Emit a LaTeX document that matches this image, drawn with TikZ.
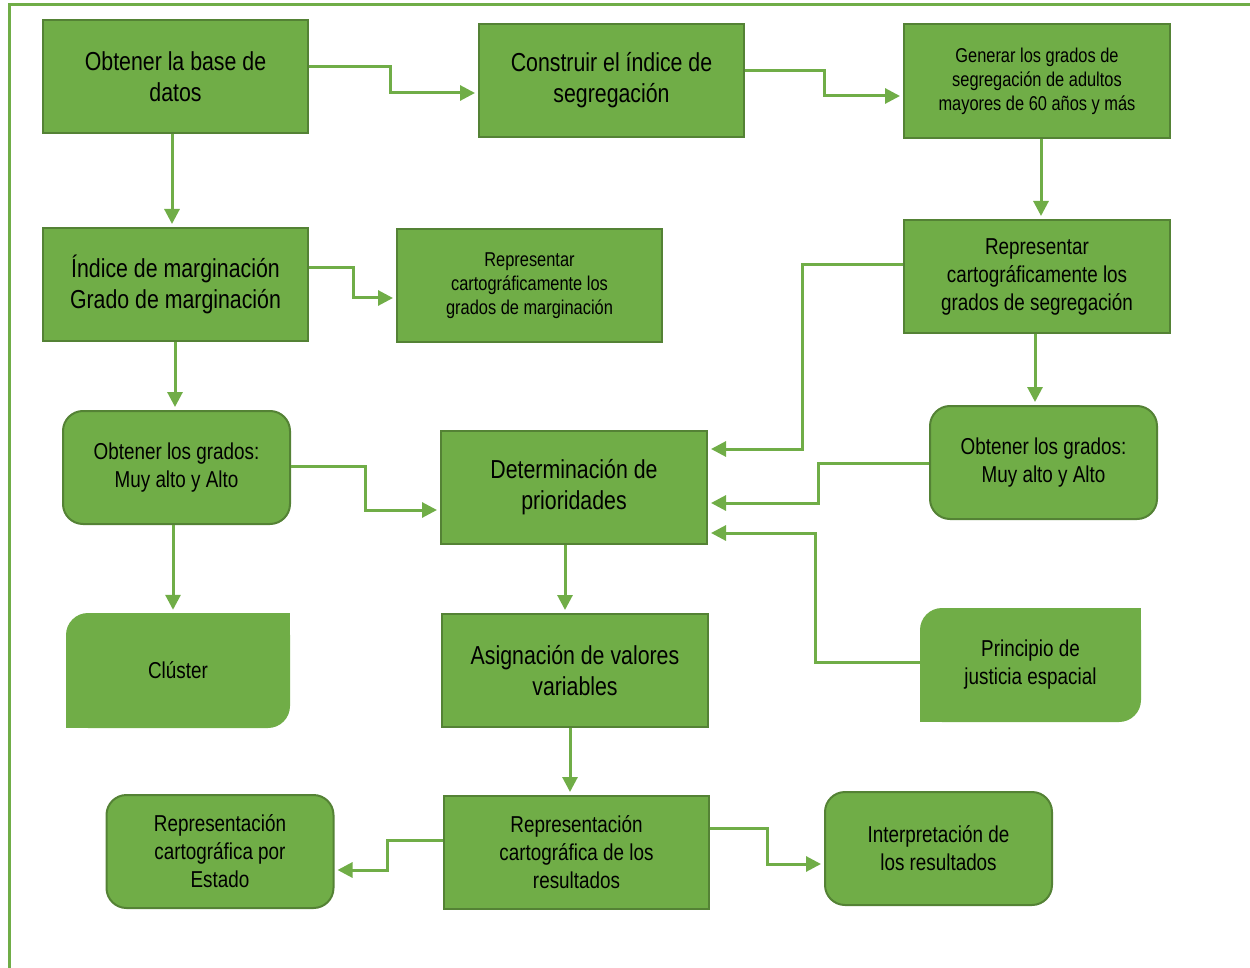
\documentclass[tikz,border=0pt]{standalone}
\usepackage{fontspec}
\setmainfont{Liberation Sans}[FakeStretch=0.82]
\usetikzlibrary{arrows.meta,calc}
\definecolor{gfill}{HTML}{70AD47}
\definecolor{gborder}{HTML}{548235}
\definecolor{gline}{HTML}{70AD47}
\tikzset{
 box/.style={rectangle, draw=gborder, line width=2pt, fill=gfill, inner sep=0pt, align=center, text=black, minimum width=265pt, minimum height=113pt},
 rbox/.style={box, rounded corners=20pt, minimum width=227pt},
 cbox/.style={rectangle, fill=gfill, rounded corners=22pt, inner sep=0pt, align=center, text=black},
 fbig/.style={font=\fontsize{26}{31}\selectfont},
 fmid/.style={font=\fontsize{23}{28}\selectfont},
 fsmall/.style={font=\fontsize{20}{24}\selectfont},
 arr/.style={draw=gline, line width=3pt, -{Triangle[length=15pt,width=15pt]}, shorten >=3pt},
}
\begin{document}
\begin{tikzpicture}[x=1pt,y=-1pt]
\useasboundingbox (0,0) rectangle (1250,968);
\draw[gline, line width=3pt] (1250,5) -- (9,5) -- (9,968);

\node[box,fbig] (b1) at (175.5,76.5) {Obtener la base de\\datos};
\node[box,fbig] (b2) at (611.5,80.5) {Construir el índice de\\segregación};
\node[box,fsmall,minimum width=266pt,minimum height=114pt] (b3) at (1037,81) {Generar los grados de\\segregación de adultos\\mayores de 60 años y más};
\node[box,fbig] (b4) at (175.5,284.5) {Índice de marginación\\Grado de marginación};
\node[box,fsmall] (b5) at (529.5,285.5) {Representar\\cartográficamente los\\grados de marginación};
\node[box,fmid,minimum width=266pt] (b6) at (1037,276.5) {Representar\\cartográficamente los\\grados de segregación};
\node[rbox,fmid] (b7) at (176.5,467.5) {Obtener los grados:\\Muy alto y Alto};
\node[box,fbig,minimum width=266pt] (b8) at (574,487.5) {Determinación de\\prioridades};
\node[rbox,fmid] (b9) at (1043.5,462.5) {Obtener los grados:\\Muy alto y Alto};

\node[cbox,fmid,minimum width=224pt,minimum height=115pt] (b10) at (178,670.5) {Clúster};
\fill[gfill] (b10.north east) rectangle ++(-24,24);
\fill[gfill] (b10.south west) rectangle ++(24,-24);

\node[box,fbig,minimum width=266pt] (b11) at (575,670.5) {Asignación de valores\\variables};

\node[cbox,fmid,minimum width=221pt,minimum height=114pt] (b12) at (1030.5,665) {Principio de\\justicia espacial};
\fill[gfill] (b12.north east) rectangle ++(-24,24);
\fill[gfill] (b12.south west) rectangle ++(24,-24);

\node[box,fmid] (b13) at (576.5,852.5) {Representación\\cartográfica de los\\resultados};
\node[rbox,fmid] (b14) at (220,851.5) {Representación\\cartográfica por\\Estado};
\node[rbox,fmid] (b15) at (938.5,848.5) {Interpretación de\\los resultados};

\draw[arr] (b1.east |- 0,67) -- (390,67) -- (390,93) -- (b2.west |- 0,93);
\draw[arr] (b2.east |- 0,71) -- (824,71) -- (824,96) -- (b3.west |- 0,96);
\draw[arr] (b1.south -| 172,0) -- (b4.north -| 172,0);
\draw[arr] (b3.south -| 1041,0) -- (b6.north -| 1041,0);
\draw[arr] (b4.east |- 0,268) -- (353,268) -- (353,298) -- (b5.west |- 0,298);
\draw[arr] (b4.south -| 175,0) -- (b7.north -| 175,0);
\draw[arr] (b6.west |- 0,265) -- (802,265) -- (802,449) -- (b8.east |- 0,449);
\draw[arr] (b6.south -| 1035,0) -- (b9.north -| 1035,0);
\draw[arr] (b9.west |- 0,463) -- (818,463) -- (818,503) -- (b8.east |- 0,503);
\draw[arr] (b12.west |- 0,662) -- (815,662) -- (815,533) -- (b8.east |- 0,533);
\draw[arr] (b7.east |- 0,466) -- (365,466) -- (365,510) -- (b8.west |- 0,510);
\draw[arr] (b7.south -| 173,0) -- (b10.north -| 173,0);
\draw[arr] (b8.south -| 565,0) -- (b11.north -| 565,0);
\draw[arr] (b11.south -| 570,0) -- (b13.north -| 570,0);
\draw[arr] (b13.west |- 0,840) -- (387,840) -- (387,870) -- (b14.east |- 0,870);
\draw[arr] (b13.east |- 0,828) -- (767,828) -- (767,864) -- (b15.west |- 0,864);
\end{tikzpicture}
\end{document}
